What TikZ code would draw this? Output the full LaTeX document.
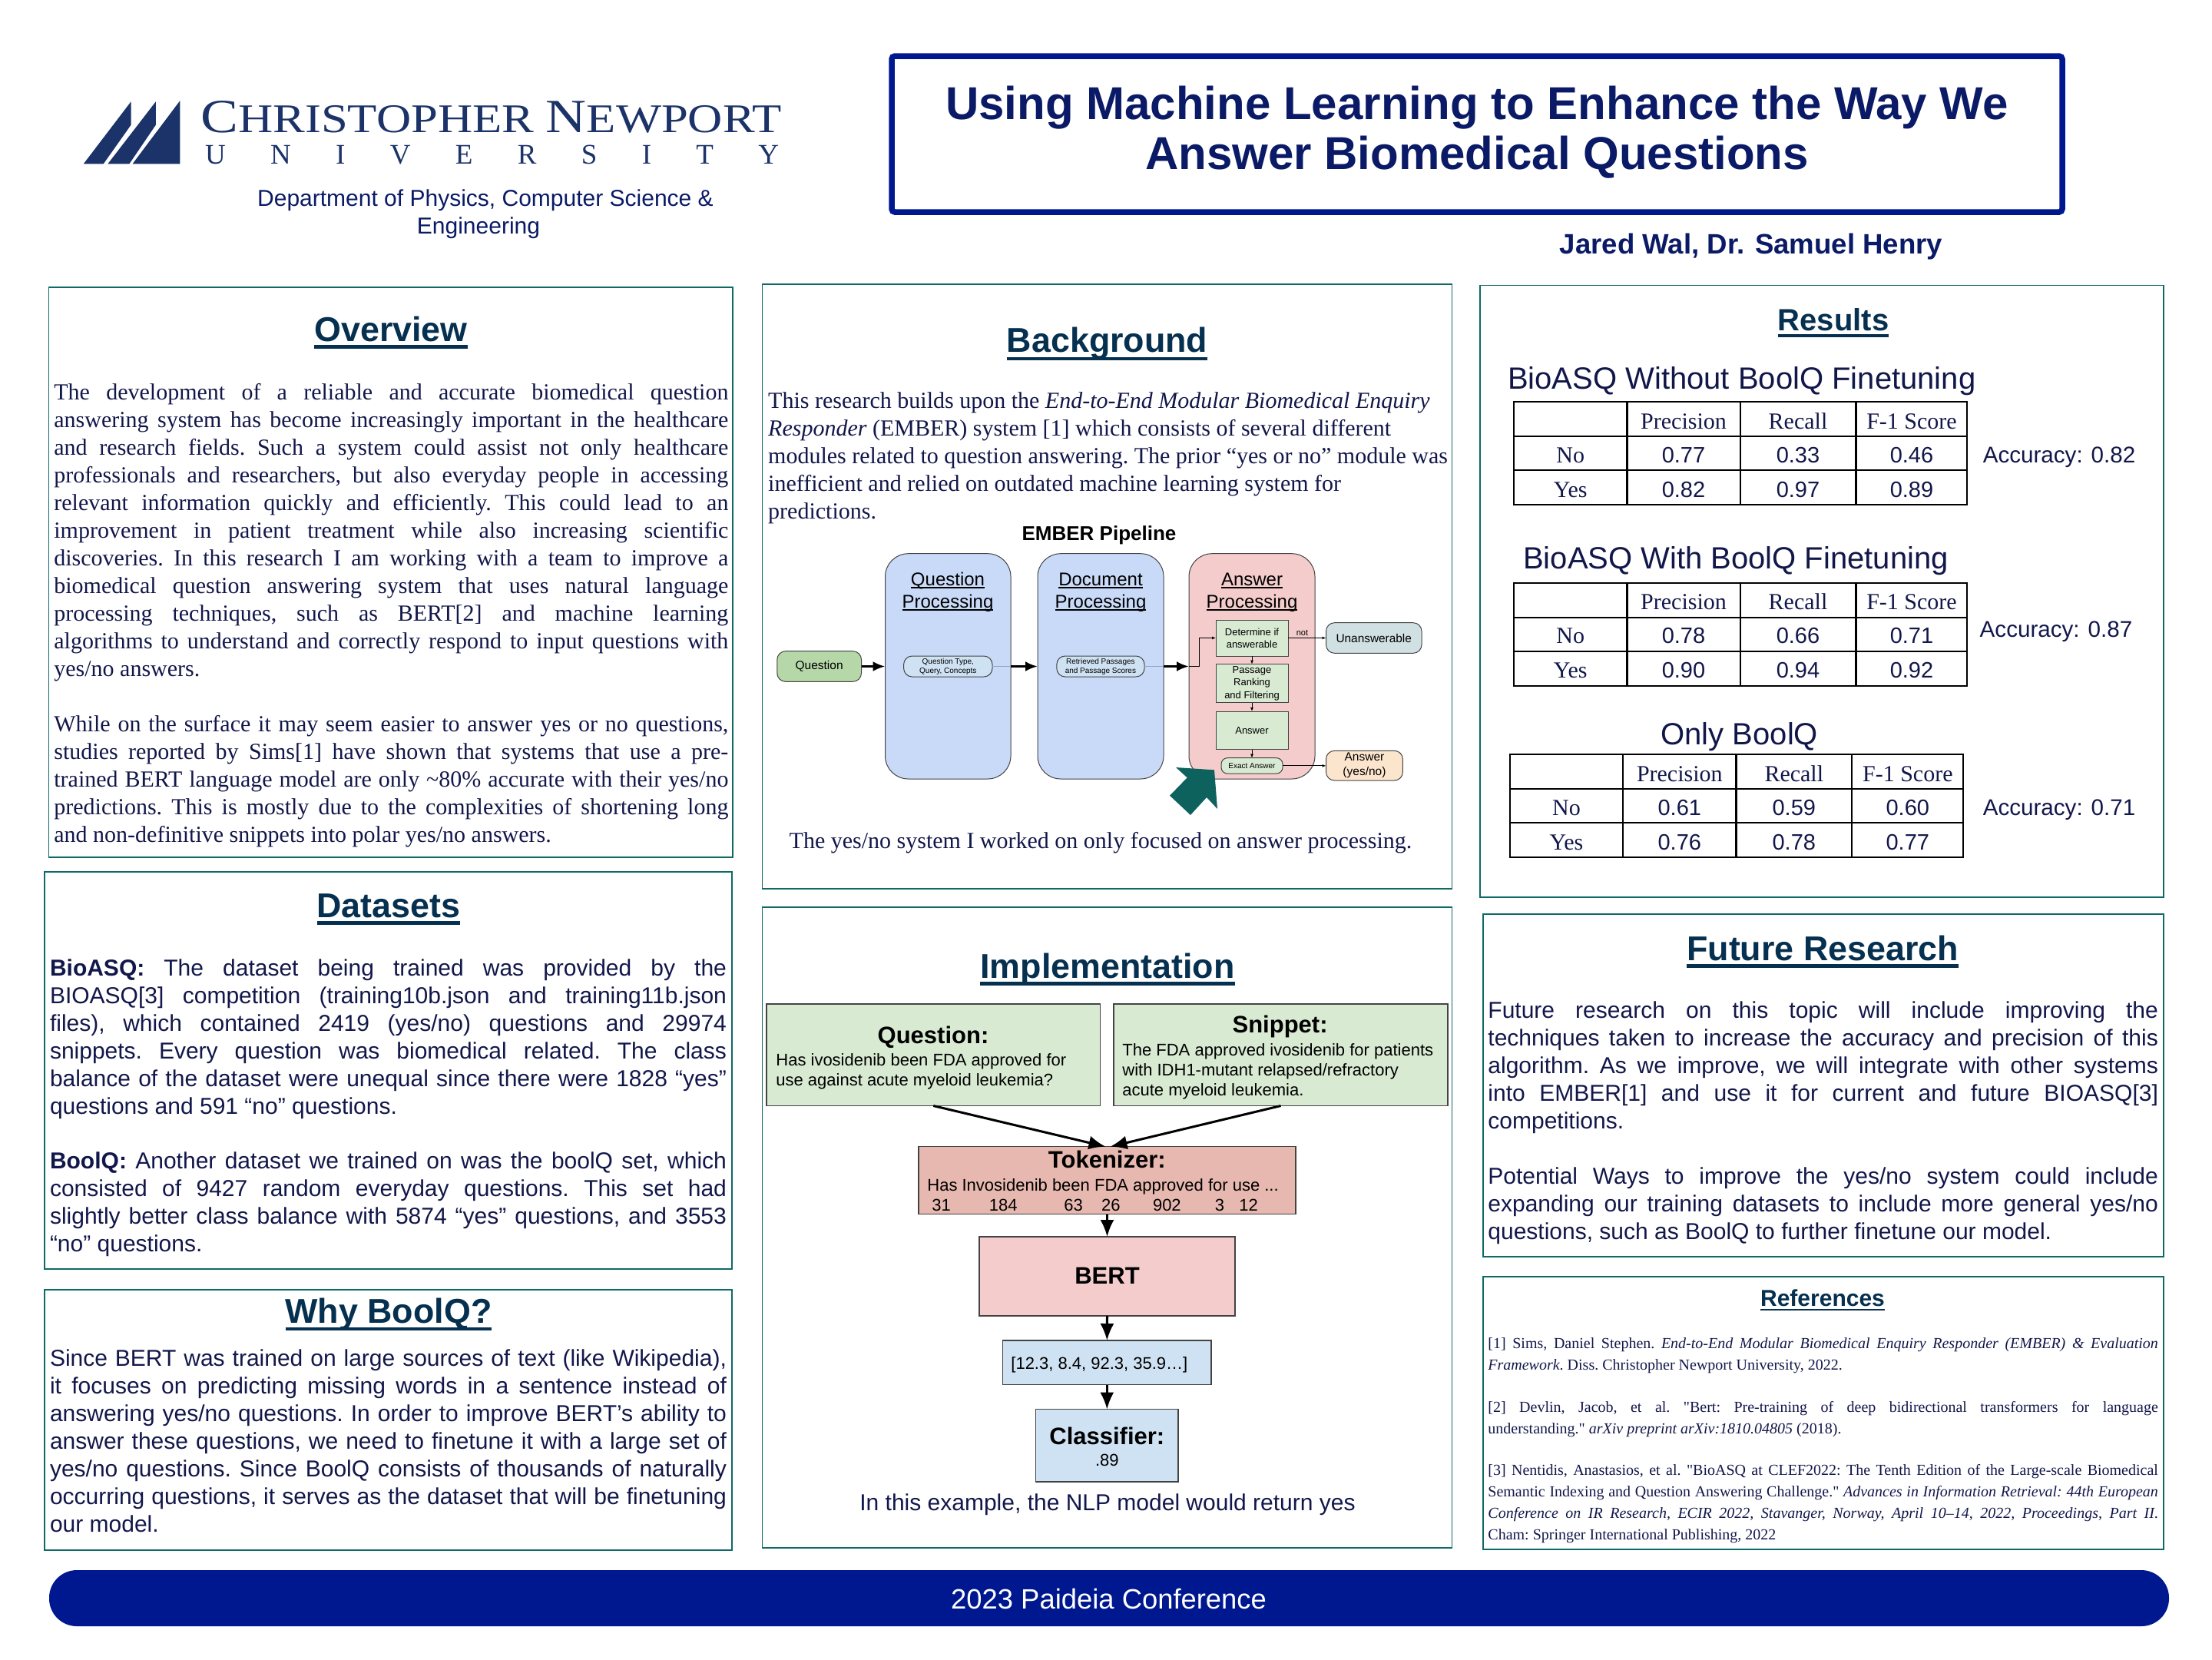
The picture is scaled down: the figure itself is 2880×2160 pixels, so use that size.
\documentclass[tikz,border=0pt]{standalone}
\usepackage{fontspec}
\usepackage{graphicx}
\setmainfont{Liberation Serif}
\setsansfont{Liberation Sans}
\newfontfamily\reffont{Liberation Serif}
\usetikzlibrary{fit,arrows.meta}
\definecolor{navy}{HTML}{12174A}
\definecolor{titlec}{HTML}{0A1A66}
\definecolor{deepblue}{HTML}{00188F}
\definecolor{teal}{HTML}{0E6A66}
\definecolor{headc}{HTML}{06304F}
\definecolor{logoc}{HTML}{1C3369}
\definecolor{arrowteal}{HTML}{0E625E}
\definecolor{gborder}{HTML}{434343}
\definecolor{fgreen}{HTML}{B6D7A8}
\definecolor{flgreen}{HTML}{D9EAD3}
\definecolor{fblue}{HTML}{C9DAF8}
\definecolor{flblue}{HTML}{CFE2F3}
\definecolor{fpink}{HTML}{F4CCCC}
\definecolor{fred}{HTML}{E6B8AF}
\definecolor{fslate}{HTML}{D0E0E3}
\definecolor{forange}{HTML}{FCE5CD}
\definecolor{thinblue}{HTML}{8FA7C4}
\newcommand\fsz[2]{\fontsize{#1}{#2}\selectfont}
\newcommand\pblock[2]{\vtop{\hsize=#1pt \frenchspacing #2}}
\newcommand\jline[1]{\hbox to \hsize{#1}}
\newcommand\hdul[3]{\vtop{\setbox0\hbox{#1}\dp0=0pt \box0 \kern#2pt \hrule height #3pt}}
\tikzset{
  x=0.5pt,y=-0.5pt,
  section/.style={draw=teal,line width=0.85pt,fill=white,inner sep=0pt,outer sep=0pt},
  heading/.style={anchor=base,inner sep=0pt,text=headc,font=\sffamily\bfseries\fsz{22.4}{27}},
  serifbody/.style={anchor=base west,inner sep=0pt,text=navy,font=\fsz{15}{18}},
  sansbody/.style={anchor=base west,inner sep=0pt,text=navy,font=\sffamily\fsz{15}{18}},
  refbody/.style={anchor=base west,inner sep=0pt,text=navy,font=\reffont\fsz{10}{14}},
  pipebox/.style={draw=gborder,line width=0.5pt,inner sep=0pt,outer sep=0pt},
  pipetext/.style={anchor=center,inner sep=0pt,text=black,align=center,font=\sffamily\fsz{6.5}{8.15}},
  pipehead/.style={anchor=base,inner sep=0pt,text=black,font=\sffamily\fsz{12}{14.5}},
  implbox/.style={draw=gborder,line width=0.75pt,inner sep=0pt,outer sep=0pt},
  impltitle/.style={anchor=base,inner sep=0pt,text=black,font=\sffamily\bfseries\fsz{15.5}{18}},
  impltext/.style={anchor=base west,inner sep=0pt,text=black,font=\sffamily\fsz{11}{13}},
  bigarrow/.style={line width=1.5pt,black,-{Latex[length=8pt,width=6.5pt]}},
  smallarrow/.style={line width=0.5pt,black,-{Latex[length=2.5pt,width=2pt]}},
  implarrow/.style={line width=1.5pt,black,-{Latex[length=11pt,width=9pt]}},
  thinlink/.style={line width=0.5pt,thinblue},
  tline/.style={line width=1.1pt,black},
  cellserif/.style={anchor=base,inner sep=0pt,text=navy,font=\fsz{15}{18}},
  cellsans/.style={anchor=base,inner sep=0pt,text=navy,font=\sffamily\fsz{14.5}{18}},
  tabletitle/.style={anchor=base,inner sep=0pt,text=navy,font=\sffamily\fsz{20}{24}},
  accuracy/.style={anchor=base west,inner sep=0pt,text=navy,font=\sffamily\fsz{14.8}{18}},
}
\newcommand\restable[9]{%
  \begin{scope}[shift={(#2,#3)}]
    \draw[tline] (0,0) rectangle (590,134);
    \draw[tline] (0,45) -- (590,45) (0,89.3) -- (590,89.3);
    \draw[tline] (147.4,0) -- (147.4,134) (294.7,0) -- (294.7,134) (445.5,0) -- (445.5,134);
    \node[cellserif] (#1p) at (221,35) {Precision};
    \node[cellserif] (#1r) at (370,35) {Recall};
    \node[cellserif] (#1f) at (518,35) {F-1 Score};
    \node[cellserif] (#1no) at (73.7,79) {No};
    \node[cellsans] (#1a) at (221,79) {#4};
    \node[cellsans] (#1b) at (370,79) {#5};
    \node[cellsans] (#1c) at (518,79) {#6};
    \node[cellserif] (#1yes) at (73.7,124) {Yes};
    \node[cellsans] (#1d) at (221,124) {#7};
    \node[cellsans] (#1e) at (370,124) {#8};
    \node[cellsans] (#1g) at (518,124) {#9};
  \end{scope}}
\begin{document}
\begin{tikzpicture}
\useasboundingbox (0,0) rectangle (2880,2160);
\fill[white] (0,0) rectangle (2880,2160);

% ---------- logo
\fill[logoc] (234.4,131) -- (234.4,213.3) -- (172.6,213.3) -- cycle;
\fill[logoc] (202.8,132.3) -- (202.8,162.7) -- (168.4,213.3) -- (140.4,213.3) -- cycle;
\fill[logoc] (170.5,132.3) -- (170.5,162.7) -- (134.7,213.3) -- (108.8,213.3) -- cycle;
\node[anchor=base west,inner sep=0pt,text=logoc] (logoA) at (261,172)
  {\resizebox{378pt}{\height}{\fsz{31}{34}C\fsz{26.5}{30}HRISTOPHER \fsz{31}{34}N\fsz{26.5}{30}EWPORT}};
\node[anchor=base west,inner sep=0pt,text=logoc,font=\fsz{18.5}{22}] (logoB) at (266.7,213)
  {\hbox to 373.5pt{U\hfill N\hfill I\hfill V\hfill E\hfill R\hfill S\hfill I\hfill T\hfill Y}};
\node[anchor=base,inner sep=0pt,text=titlec,font=\sffamily\fsz{15}{18}] (deptA) at (632,268) {Department of Physics, Computer Science \&};
\node[anchor=base,inner sep=0pt,text=titlec,font=\sffamily\fsz{15}{18}] (deptB) at (623,304) {Engineering};

% ---------- title
\node[fit={(1161,73) (2685,276)},draw=deepblue,line width=3.75pt,rounded corners=2pt,inner sep=0pt,outer sep=0pt,fill=white] (titlebox) {};
\node[anchor=base,inner sep=0pt,text=titlec,font=\sffamily\bfseries\fsz{30}{32.5}] (titleA) at (1923,155) {Using Machine Learning to Enhance the Way We};
\node[anchor=base,inner sep=0pt,text=titlec,font=\sffamily\bfseries\fsz{30}{32.5}] (titleB) at (1923,220) {Answer Biomedical Questions};
\node[anchor=base,inner sep=0pt,text=titlec,font=\sffamily\bfseries\fsz{18.3}{22}] (authors) at (2280,330) {Jared Wal, Dr. Samuel Henry};

% ---------- section boxes
\node[section,fit={(63.4,374) (954,1116)}] (overviewbox) {};
\node[section,fit={(58,1135) (953,1652)}] (datasetsbox) {};
\node[section,fit={(58,1679) (953,2018)}] (whybox) {};
\node[section,fit={(992.6,370) (1890.6,1157)}] (backgroundbox) {};
\node[section,fit={(992.6,1181) (1890.6,2015)}] (implementationbox) {};
\node[section,fit={(1927,371.5) (2817,1168)}] (resultsbox) {};
\node[section,fit={(1931,1190) (2817,1636)}] (futurebox) {};
\node[section,fit={(1931,1662) (2817,2017)}] (refsbox) {};

% ---------- Overview
\node[heading] (overviewh) at (509,444) {\hdul{Overview}{2.5}{2.25}};
\node[serifbody] (overviewA) at (70,520.7) {\pblock{439}{
\jline{The development of a reliable and accurate biomedical question}
\jline{answering system has become increasingly important in the healthcare}
\jline{and research fields. Such a system could assist not only healthcare}
\jline{professionals and researchers, but also everyday people in accessing}
\jline{relevant information quickly and efficiently. This could lead to an}
\jline{improvement in patient treatment while also increasing scientific}
\jline{discoveries. In this research I am working with a team to improve a}
\jline{biomedical question answering system that uses natural language}
\jline{processing techniques, such as BERT[2] and machine learning}
\jline{algorithms to understand and correctly respond to input questions with}
\hbox{yes/no answers.}}};
\node[serifbody] (overviewB) at (70,952) {\pblock{439}{
\jline{While on the surface it may seem easier to answer yes or no questions,}
\jline{studies reported by Sims[1] have shown that systems that use a pre-}
\jline{trained BERT language model are only \textasciitilde80\% accurate with their yes/no}
\jline{predictions. This is mostly due to the complexities of shortening long}
\hbox{and non-definitive snippets into polar yes/no answers.}}};

% ---------- Datasets
\node[heading] (datasetsh) at (506,1194) {\hdul{Datasets}{2.5}{2.25}};
\node[sansbody] (datasetsA) at (64.6,1270) {\pblock{440.5}{
\jline{\textbf{BioASQ:} The dataset being trained was provided by the}
\jline{BIOASQ[3] competition (training10b.json and training11b.json}
\jline{files), which contained 2419 (yes/no) questions and 29974}
\jline{snippets. Every question was biomedical related. The class}
\jline{balance of the dataset were unequal since there were 1828 “yes”}
\hbox{questions and 591 “no” questions.}}};
\node[sansbody] (datasetsB) at (64.6,1521.6) {\pblock{440.5}{
\jline{\textbf{BoolQ:} Another dataset we trained on was the boolQ set, which}
\jline{consisted of 9427 random everyday questions. This set had}
\jline{slightly better class balance with 5874 “yes” questions, and 3553}
\hbox{“no” questions.}}};

% ---------- Why BoolQ
\node[heading] (whyh) at (506,1722.6) {\hdul{Why BoolQ?}{2.5}{2.25}};
\node[sansbody] (whytext) at (64.6,1778.5) {\pblock{440.5}{
\jline{Since BERT was trained on large sources of text (like Wikipedia),}
\jline{it focuses on predicting missing words in a sentence instead of}
\jline{answering yes/no questions. In order to improve BERT’s ability to}
\jline{answer these questions, we need to finetune it with a large set of}
\jline{yes/no questions. Since BoolQ consists of thousands of naturally}
\jline{occurring questions, it serves as the dataset that will be finetuning}
\hbox{our model.}}};

% ---------- Background
\node[heading] (backgroundh) at (1441.6,458.7) {\hdul{Background}{3}{2.25}};
\node[serifbody] (backgroundtext) at (999.8,531.7) {\pblock{445}{
\hbox{This research builds upon the \textit{End-to-End Modular Biomedical Enquiry}}
\hbox{\textit{Responder} (EMBER) system [1] which consists of several different}
\hbox{modules related to question answering. The prior “yes or no” module was}
\hbox{inefficient and relied on outdated machine learning system for}
\hbox{predictions.}}};
\node[anchor=base,inner sep=0pt,text=black,font=\sffamily\bfseries\fsz{13}{16}] (pipelinetitle) at (1431,703) {EMBER Pipeline};

\node[pipebox,fit={(1152.5,720.7) (1316,1014)},fill=fblue,rounded corners=15pt] (qp) {};
\node[pipebox,fit={(1351,720.7) (1515,1014)},fill=fblue,rounded corners=15pt] (dp) {};
\node[pipebox,fit={(1548,720.7) (1712,1014)},fill=fpink,rounded corners=15pt] (ap) {};
\node[pipehead] (qpA) at (1234,762.7) {\hdul{Question}{0.8}{0.9}};
\node[pipehead] (qpB) at (1234,791.7) {\hdul{Processing}{0.8}{0.9}};
\node[pipehead] (dpA) at (1433,762.7) {\hdul{Document}{0.8}{0.9}};
\node[pipehead] (dpB) at (1433,791.7) {\hdul{Processing}{0.8}{0.9}};
\node[pipehead] (apA) at (1630,762.7) {\hdul{Answer}{0.8}{0.9}};
\node[pipehead] (apB) at (1630,791.7) {\hdul{Processing}{0.8}{0.9}};

\node[pipebox,fit={(1011.8,847.7) (1121.5,887.3)},fill=fgreen,rounded corners=5.5pt] (qn) {};
\node[pipebox,fit={(1176.6,854) (1292,881)},fill=flblue,rounded corners=5.5pt] (qt) {};
\node[pipebox,fit={(1375.8,854) (1490,881)},fill=flblue,rounded corners=5.5pt] (rt) {};
\node[pipebox,fit={(1583,807) (1677,854)},fill=flgreen] (det) {};
\node[pipebox,fit={(1583,864.7) (1677,914.7)},fill=flgreen] (pas) {};
\node[pipebox,fit={(1583,926) (1677,975.7)},fill=flgreen] (ans) {};
\node[pipebox,fit={(1590,986.7) (1670,1007)},fill=flgreen,rounded corners=4pt] (exa) {};
\node[pipebox,fit={(1726.5,810.7) (1851,850.3)},fill=fslate,rounded corners=5.5pt] (una) {};
\node[pipebox,fit={(1726.5,977.3) (1826.4,1016)},fill=forange,rounded corners=5.5pt] (yn) {};
\node[pipetext,font=\sffamily\fsz{7.75}{9}] (qnt) at (qn.center) {Question};
\node[pipetext,font=\sffamily\fsz{5}{5.9}] (qtt) at (qt.center) {Question Type,\\Query, Concepts};
\node[pipetext,font=\sffamily\fsz{5}{5.9}] (rtt) at (rt.center) {Retrieved Passages\\and Passage Scores};
\node[pipetext] (dett) at (det.center) {Determine if\\answerable};
\node[pipetext] (past) at (pas.center) {Passage\\Ranking\\and Filtering};
\node[pipetext] (anst) at (ans.center) {Answer};
\node[pipetext,font=\sffamily\fsz{5}{6}] (exat) at (exa.center) {Exact Answer};
\node[pipetext,font=\sffamily\fsz{7.7}{9}] (unat) at (una.center) {Unanswerable};
\node[pipetext,font=\sffamily\fsz{7.75}{9.5}] (ynt) at (yn.center) {Answer\\(yes/no)};
\node[anchor=base,inner sep=0pt,text=black,font=\sffamily\fsz{5.5}{7}] (notl) at (1695.5,827) {not};

\draw[bigarrow] (qn.east) -- (qn.east -| qp.west);
\draw[thinlink] (qt.east) -- (qt.east -| qp.east);
\draw[bigarrow] (qt.east -| qp.east) -- (qt.east -| dp.west);
\draw[thinlink] (rt.east) -- (rt.east -| dp.east);
\draw[bigarrow] (rt.east -| dp.east) -- (rt.east -| ap.west);
\coordinate (apbend) at (1561,867.5);
\draw[smallarrow] (rt.east -| ap.west) -- (apbend) |- (det.west);
\draw[smallarrow] (det.east) -- (det.east -| una.west);
\draw[smallarrow] (det.south) -- (pas.north);
\draw[smallarrow] (pas.south) -- (ans.north);
\draw[smallarrow] (ans.south) -- (exa.north);
\draw[smallarrow] (exa.east) -- (exa.east -| yn.west);
\fill[arrowteal] (1531,999) -- (1581,1002.3) -- (1585,1053) -- (1571,1038) -- (1550,1061) -- (1523,1035.7) -- (1545.7,1012.3) -- cycle;
\node[anchor=base,inner sep=0pt,text=navy,font=\fsz{15}{18}] (backcaption) at (1433,1104) {The yes/no system I worked on only focused on answer processing.};

% ---------- Implementation
\node[heading] (implh) at (1442,1273) {\hdul{Implementation}{2.5}{2.25}};
\node[implbox,fit={(998,1307) (1432.5,1439.5)},fill=flgreen] (qb) {};
\node[implbox,fit={(1450,1307) (1885,1439.5)},fill=flgreen] (sb) {};
\node[impltitle] (qbt) at (1215,1358) {Question:};
\node[impltext] (qbx) at (1010,1387.3) {\vtop{\fsz{11}{13}\hbox{Has ivosidenib been FDA approved for}\hbox{use against acute myeloid leukemia?}}};
\node[impltitle] (sbt) at (1666.6,1344.5) {Snippet:};
\node[impltext] (sbx) at (1461,1374) {\vtop{\fsz{11}{13}\hbox{The FDA approved ivosidenib for patients}\hbox{with IDH1-mutant relapsed/refractory}\hbox{acute myeloid leukemia.}}};
\node[implbox,fit={(1196,1492.7) (1687,1580.6)},fill=fred] (tok) {};
\node[impltitle] (tokt) at (1441.3,1520.8) {Tokenizer:};
\node[impltext] (tokx) at (1207,1550) {Has Invosidenib been FDA approved for use ...};
\node[impltext] (tn1) at (1213,1576) {31};
\node[impltext] (tn2) at (1287.5,1576) {184};
\node[impltext] (tn3) at (1385,1576) {63};
\node[impltext] (tn4) at (1433.7,1576) {26};
\node[impltext] (tn5) at (1500.6,1576) {902};
\node[impltext] (tn6) at (1581.5,1576) {3};
\node[impltext] (tn7) at (1613,1576) {12};
\node[implbox,fit={(1275,1610) (1608,1712.8)},fill=fpink] (bert) {};
\node[impltitle] (bertt) at (1441.5,1671.7) {BERT};
\node[implbox,fit={(1305.7,1745) (1576.9,1802.5)},fill=flblue] (vec) {};
\node[impltext] (vect) at (1316,1782) {[12.3, 8.4, 92.3, 35.9…]};
\node[implbox,fit={(1348.6,1834.6) (1534,1929)},fill=flblue] (cls) {};
\node[impltitle] (clst) at (1441.3,1880) {Classifier:};
\node[impltext,anchor=base] (clsv) at (1441.3,1908.7) {.89};
\node[anchor=base,inner sep=0pt,text=navy,font=\sffamily\fsz{15}{18}] (implcaption) at (1442,1966.8) {In this example, the NLP model would return yes};
\draw[implarrow] (qb.south) -- ([xshift=-1pt]tok.north);
\draw[implarrow] (sb.south) -- ([xshift=2pt]tok.north);
\draw[implarrow] (tok.south) -- (bert.north);
\draw[implarrow] (bert.south) -- (vec.north);
\draw[implarrow] (vec.south) -- (cls.north);

% ---------- Results
\node[heading,font=\sffamily\bfseries\fsz{20}{24}] (resultsh) at (2387,430) {\hdul{Results}{2.5}{2}};
\node[tabletitle] (t1t) at (2267.7,506) {BioASQ Without BoolQ Finetuning};
\restable{ta}{1971}{523}{0.77}{0.33}{0.46}{0.82}{0.97}{0.89}
\node[accuracy] (t1acc) at (2581.4,602) {Accuracy: 0.82};
\node[tabletitle] (t2t) at (2260,740) {BioASQ With BoolQ Finetuning};
\restable{tb}{1971}{758.8}{0.78}{0.66}{0.71}{0.90}{0.94}{0.92}
\node[accuracy] (t2acc) at (2577.3,829) {Accuracy: 0.87};
\node[tabletitle] (t3t) at (2264.8,969.5) {Only BoolQ};
\restable{tc}{1965.8}{982}{0.61}{0.59}{0.60}{0.76}{0.78}{0.77}
\node[accuracy] (t3acc) at (2581.4,1061) {Accuracy: 0.71};

% ---------- Future Research
\node[heading] (futureh) at (2373,1250) {\hdul{Future Research}{2.5}{2.25}};
\node[sansbody] (futureA) at (1937,1325.6) {\pblock{436.25}{
\jline{Future research on this topic will include improving the}
\jline{techniques taken to increase the accuracy and precision of this}
\jline{algorithm. As we improve, we will integrate with other systems}
\jline{into EMBER[1] and use it for current and future BIOASQ[3]}
\hbox{competitions.}}};
\node[sansbody] (futureB) at (1937,1541) {\pblock{436.25}{
\jline{Potential Ways to improve the yes/no system could include}
\jline{expanding our training datasets to include more general yes/no}
\hbox{questions, such as BoolQ to further finetune our model.}}};

% ---------- References
\node[heading,font=\sffamily\bfseries\fsz{15}{18}] (refsh) at (2373,1700.6) {\hdul{References}{1.5}{1.25}};
\node[refbody] (refA) at (1937,1755) {\pblock{436.25}{
\jline{[1] Sims, Daniel Stephen. \textit{End-to-End Modular Biomedical Enquiry Responder (EMBER) \& Evaluation}}
\hbox{\textit{Framework}. Diss. Christopher Newport University, 2022.}}};
\node[refbody] (refB) at (1937,1838) {\pblock{436.25}{
\jline{[2] Devlin, Jacob, et al. "Bert: Pre-training of deep bidirectional transformers for language}
\hbox{understanding." \textit{arXiv preprint arXiv:1810.04805} (2018).}}};
\node[refbody] (refC) at (1937,1920) {\pblock{436.25}{
\jline{[3] Nentidis, Anastasios, et al. "BioASQ at CLEF2022: The Tenth Edition of the Large-scale Biomedical}
\jline{Semantic Indexing and Question Answering Challenge." \textit{Advances in Information Retrieval: 44th European}}
\jline{\textit{Conference on IR Research, ECIR 2022, Stavanger, Norway, April 10–14, 2022, Proceedings, Part II}.}
\hbox{Cham: Springer International Publishing, 2022}}};

% ---------- footer
\node[fit={(64,2044) (2824,2117)},fill=deepblue,rounded corners=18pt,inner sep=0pt,outer sep=0pt] (footer) {};
\node[anchor=base,inner sep=0pt,text=white,font=\sffamily\fsz{18.2}{22}] (footert) at (1443.6,2094) {2023 Paideia Conference};
\end{tikzpicture}
\end{document}
